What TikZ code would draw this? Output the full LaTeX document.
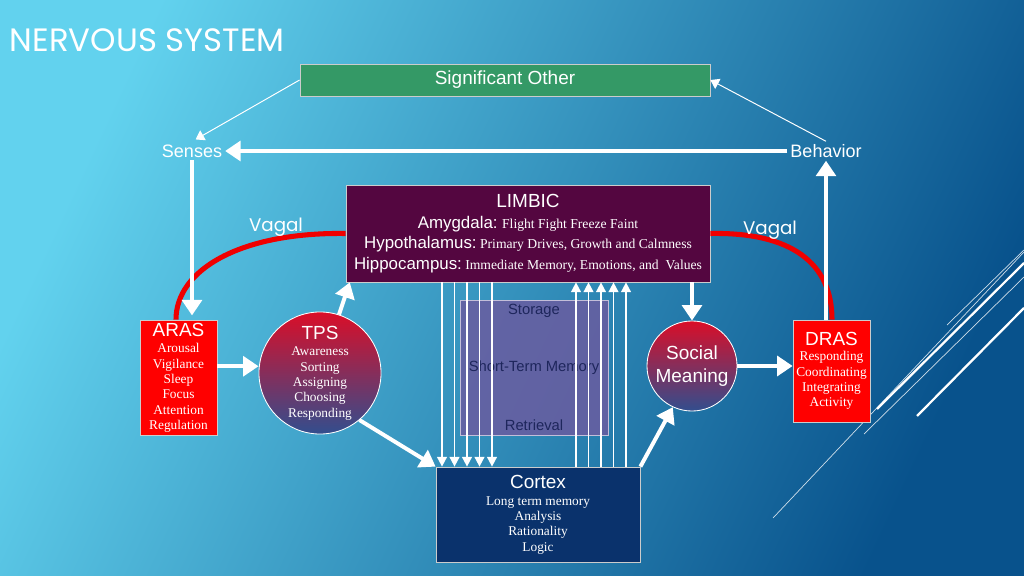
\documentclass[tikz,border=0pt]{standalone}
\usepackage{fontspec}
\setmainfont{Liberation Serif}
\setsansfont{Liberation Sans}
\newfontfamily\gothic{Poppins}
\usepackage{tikz}
\usetikzlibrary{positioning}
\usetikzlibrary{arrows.meta}

\definecolor{bgLight}{RGB}{98,210,238}
\definecolor{bgDark}{RGB}{8,82,140}
\definecolor{otherGreen}{RGB}{52,153,102}
\definecolor{limbicPurple}{RGB}{84,6,64}
\definecolor{asRed}{RGB}{255,0,0}
\definecolor{circRed}{RGB}{218,14,40}
\definecolor{circBlue}{RGB}{50,78,142}
\definecolor{memPurple}{RGB}{106,92,160}
\definecolor{memText}{RGB}{30,38,92}
\definecolor{cortexBlue}{RGB}{10,50,108}
\definecolor{vagalRed}{RGB}{240,0,0}

\newcommand{\boxhead}[1]{{\sffamily\fontsize{13.5}{16}\selectfont #1}}
\newcommand{\organ}[1]{{\sffamily\fontsize{12}{14}\selectfont #1}}

\begin{document}
\begin{tikzpicture}[x=0.025cm, y=-0.025cm,
    panel/.style = {draw=white!80!black, line width=0.5pt, text=white, inner sep=1pt, align=center},
    bubble/.style = {circle, draw=white, line width=0.6pt, text=white, inner sep=0pt, align=center},
    fat/.style = {draw=white, line width=2.8pt, -{Triangle[width=14pt,length=11pt]}},
    slim/.style = {draw=white, line width=0.7pt, -{Triangle[width=8pt,length=6pt]}},
    wire/.style = {draw=white, line width=1.2pt, -{Triangle[width=7pt,length=7pt]}},
    vagal/.style = {draw=vagalRed, line width=3.6pt},
    memtext/.style = {text=memText, font=\sffamily\fontsize{10.5}{12}\selectfont}]
    % Background
    \useasboundingbox (0,0) rectangle (1024,576);
    \shade[top color=bgLight, bottom color=bgDark, shading angle=65] (0,0) rectangle (1024,576);
    \draw[white, opacity=0.8, line width=0.5pt] (773,518) -- (1024,252);
    \draw[white, opacity=0.8, line width=0.5pt] (864,434) -- (1024,277);
    \draw[white, opacity=0.8, line width=0.5pt] (947,325) -- (1024,250);
    \draw[white, line width=1.6pt] (877,409) -- (1024,263);
    \draw[white, line width=1.6pt] (917,416) -- (1024,308);
    % Title
    \node[anchor=west, text=white, font=\gothic\fontsize{23}{27}\selectfont] (title) at (5,40) {NERVOUS SYSTEM};
    % Outer loop
    \node[panel, fill=otherGreen, minimum width=10.25cm, minimum height=0.8cm, font=\sffamily\fontsize{13.5}{16}\selectfont] (other) at (505,80) {Significant Other};
    \node[text=white, inner sep=2pt, font=\sffamily\fontsize{12.8}{15}\selectfont] (senses) at (192,151) {Senses};
    \node[text=white, inner sep=2pt, font=\sffamily\fontsize{12.8}{15}\selectfont] (behavior) at (826,151) {Behavior};
    % Limbic system
    \node[panel, fill=limbicPurple, minimum width=9.1cm, minimum height=2.425cm, font=\rmfamily\fontsize{9.7}{14.7}\selectfont] (limbic) at (528,233.5)
        {\boxhead{LIMBIC}\\
         \organ{Amygdala:} Flight Fight Freeze Faint\\
         \organ{Hypothalamus:}~Primary Drives, Growth and Calmness\\
         \organ{Hippocampus:}~Immediate Memory, Emotions, and\ \ Values};
    % Activating systems
    \node[panel, fill=asRed, minimum width=1.925cm, minimum height=2.875cm, font=\rmfamily\fontsize{9.5}{10.9}\selectfont] (aras) at (178.5,377.5)
        {\boxhead{ARAS}\\[1pt] Arousal\\ Vigilance\\ Sleep\\ Focus\\ Attention\\ Regulation};
    \node[panel, fill=asRed, minimum width=1.925cm, minimum height=2.55cm, font=\rmfamily\fontsize{9.5}{10.9}\selectfont] (dras) at (831.5,371)
        {\boxhead{DRAS}\\ Responding\\ Coordinating\\ Integrating\\ Activity};
    % Circles
    \node[bubble, top color=circRed, bottom color=circBlue, minimum size=3.05cm, font=\rmfamily\fontsize{9.5}{10.9}\selectfont] (tps) at (320,373)
        {\boxhead{TPS}\\[1pt] Awareness\\ Sorting\\ Assigning\\ Choosing\\ Responding};
    \node[bubble, top color=circRed, bottom color=circBlue, minimum size=2.25cm, font=\sffamily\fontsize{13.5}{16.3}\selectfont] (social) at (692,366)
        {Social\\ Meaning};
    % Short-term memory
    \node[draw=white!60!memPurple, fill=memPurple, fill opacity=0.85, text opacity=1, line width=0.5pt, minimum width=3.7cm, minimum height=3.375cm, memtext] (stm) at (534,367.5) {Short-Term Memory};
    \node[memtext, below=0pt of stm.north] (storage) {Storage};
    \node[memtext, above=0pt of stm.south] (retrieval) {Retrieval};
    % Cortex
    \node[panel, fill=cortexBlue, minimum width=5.1cm, minimum height=2.375cm, font=\rmfamily\fontsize{9.5}{10.9}\selectfont] (cortex) at (538,514.5)
        {\boxhead{Cortex}\\[1pt] Long term memory\\ Analysis\\ Rationality\\ Logic};
    % Vagal arcs
    \draw[vagal] (limbic.west) .. controls (240,232) and (176,270) .. (aras.north -| 176,0);
    \draw[vagal] (limbic.east) .. controls (790,232) and (832,262) .. (dras.north -| 832,0);
    \node[text=white, font=\gothic\fontsize{13}{15}\selectfont] (vagalL) at (276,227) {Vagal};
    \node[text=white, font=\gothic\fontsize{13}{15}\selectfont] (vagalR) at (770,230) {Vagal};
    % Thin arrows
    \draw[slim, shorten >=3pt] (other.west) -- (senses.north);
    \draw[slim] (behavior.north) -- (other.east);
    % Thick arrows
    \draw[fat] (behavior.west) -- (senses.east);
    \draw[fat] (senses.south) -- ([yshift=3pt]senses.south |- aras.north);
    \draw[fat] (dras.north -| behavior.south) -- (behavior.south);
    \draw[fat] ([yshift=8pt]aras.east) -- ([yshift=8pt]aras.east -| tps.west);
    \draw[fat] (tps.72) -- ([xshift=3pt]limbic.south west);
    \draw[fat] (tps.-50) -- (cortex.north west);
    \draw[fat] (social.north |- limbic.south) -- (social.north);
    \draw[fat] (social.east) -- (social.east -| dras.west);
    \draw[fat] (cortex.north east) -- (social.-115);
    % Memory traffic
    \foreach \x in {442,454.5,467,479.5,492}
        \draw[wire] (limbic.south -| \x,0) -- (cortex.north -| \x,0);
    \foreach \x in {576,588.5,601,613.5,626}
        \draw[wire] (cortex.north -| \x,0) -- (limbic.south -| \x,0);
\end{tikzpicture}
\end{document}
